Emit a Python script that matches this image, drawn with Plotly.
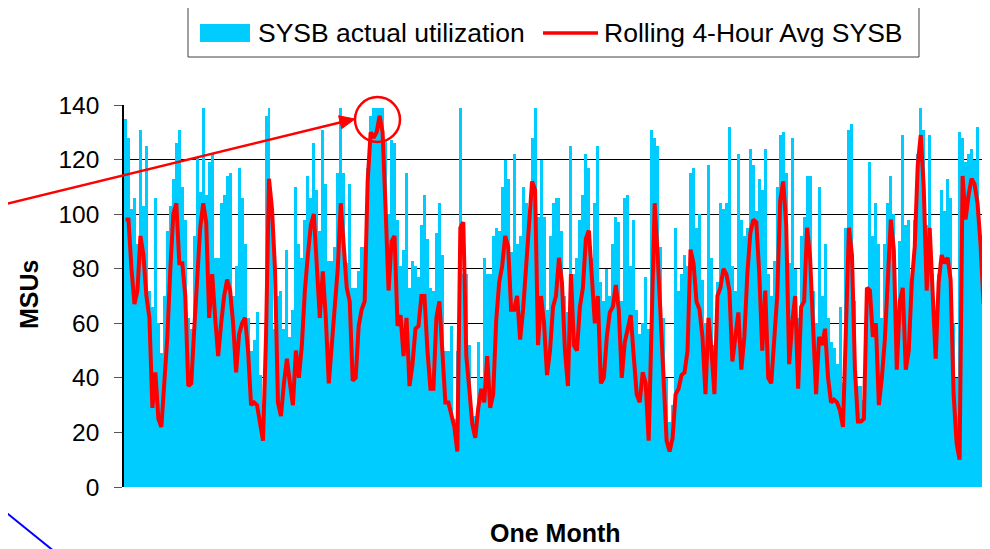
import plotly.graph_objects as go

# ---------------- data ----------------
actual_msus = [
    135, 128, 102, 106, 89, 131, 103, 125, 72, 66, 106, 60, 49, 70, 94, 103, 113, 126, 131, 110,
    98, 62, 58, 92, 121, 108, 139, 107, 119, 122, 84, 84, 104, 107, 114, 115, 70, 81, 117, 106,
    89, 62, 50, 54, 64, 41, 24, 136, 139, 102, 58, 70, 72, 58, 87, 55, 65, 110, 89, 84,
    98, 114, 106, 126, 109, 94, 131, 111, 83, 83, 88, 115, 139, 115, 82, 111, 73, 73, 79, 88,
    88, 117, 136, 139, 139, 139, 139, 127, 100, 127, 126, 98, 81, 87, 115, 73, 83, 81, 77, 96,
    107, 91, 73, 72, 93, 104, 85, 50, 50, 59, 25, 50, 139, 78, 78, 52, 26, 26, 53, 40,
    84, 78, 78, 92, 95, 94, 110, 120, 113, 86, 122, 89, 92, 110, 104, 100, 128, 139, 99, 120,
    99, 65, 92, 104, 106, 106, 94, 70, 64, 125, 78, 84, 98, 107, 122, 117, 84, 104, 125, 75,
    68, 80, 70, 89, 99, 97, 68, 106, 107, 81, 98, 65, 56, 60, 77, 58, 131, 128, 125, 88,
    62, 40, 24, 30, 95, 72, 78, 85, 81, 115, 117, 95, 100, 76, 60, 118, 84, 52, 75, 104,
    102, 104, 132, 81, 72, 122, 98, 92, 95, 124, 118, 101, 113, 109, 124, 78, 70, 83, 110, 129,
    130, 115, 82, 128, 80, 62, 92, 99, 114, 114, 72, 60, 110, 70, 89, 62, 53, 51, 45, 66,
    38, 95, 131, 133, 68, 37, 37, 32, 73, 119, 92, 104, 89, 62, 89, 104, 114, 100, 62, 90,
    129, 96, 98, 75, 98, 122, 139, 131, 96, 129, 78, 63, 78, 109, 101, 113, 106, 60, 40, 130,
    128, 119, 122, 124, 120, 132, 91, 60,
]

rolling_avg = [
    98, 98, 80, 67, 72, 92, 85, 70, 62, 29, 42, 25, 22, 40, 55, 80, 100, 104, 82, 82,
    70, 37, 38, 58, 75, 95, 104, 97, 62, 78, 62, 48, 60, 70, 76, 72, 60, 42, 56, 60,
    62, 50, 30, 31, 30, 23, 17, 55, 113, 102, 80, 31, 26, 38, 47, 38, 30, 50, 40, 52,
    72, 85, 96, 100, 80, 62, 79, 62, 38, 52, 65, 80, 104, 90, 73, 68, 39, 40, 59, 65,
    68, 112, 130, 128, 130, 136, 130, 102, 72, 90, 92, 59, 63, 48, 62, 37, 45, 58, 59, 70,
    70, 50, 36, 36, 62, 68, 50, 31, 31, 27, 22, 13, 95, 97, 48, 36, 23, 18, 29, 36,
    31, 48, 29, 34, 61, 75, 81, 92, 88, 65, 65, 70, 54, 65, 80, 98, 112, 109, 52, 70,
    60, 41, 50, 66, 70, 84, 75, 50, 37, 78, 52, 50, 66, 73, 91, 94, 78, 60, 70, 38,
    40, 55, 64, 66, 74, 65, 40, 53, 58, 63, 48, 34, 31, 42, 38, 17, 60, 104, 85, 63,
    42, 17, 13, 18, 34, 36, 41, 42, 50, 87, 82, 68, 65, 55, 34, 62, 50, 34, 70, 73,
    80, 78, 72, 46, 55, 64, 43, 55, 78, 93, 98, 97, 78, 50, 72, 40, 38, 55, 70, 105,
    112, 96, 45, 60, 70, 36, 66, 68, 95, 84, 56, 34, 55, 52, 58, 40, 31, 32, 31, 28,
    22, 60, 95, 85, 43, 24, 24, 25, 73, 72, 55, 60, 30, 40, 54, 76, 98, 87, 43, 68,
    73, 43, 50, 75, 88, 118, 129, 110, 72, 95, 70, 47, 75, 85, 82, 84, 76, 34, 16, 10,
    114, 98, 107, 113, 111, 104, 89, 67,
]

hours = list(range(len(actual_msus)))

series_names = ["SYSB actual utilization", "Rolling 4-Hour Avg SYSB"]
y_ticks = [0, 20, 40, 60, 80, 100, 120, 140]
y_title = "MSUs"
x_title = "One Month"

# ---------------- figure geometry ----------------
# the page body adds an 8px margin, so the figure is placed at (8, 8)
OFF = 8
W, H = 990 - OFF, 549 - OFF
PLOT_LEFT, PLOT_RIGHT, PLOT_TOP, PLOT_BOTTOM = 124, 985, 105, 487   # page pixels
L = PLOT_LEFT - OFF
T = PLOT_TOP - OFF
R = W - (PLOT_RIGHT - OFF)
B = H - (PLOT_BOTTOM - OFF)
PW, PH = W - L - R, H - T - B


def px(x):
    return (x - PLOT_LEFT) / PW


def py(y):
    return (PLOT_BOTTOM - y) / PH


FONT = "Liberation Sans, Arial, sans-serif"
CYAN = "#00CCFF"
RED = "#FF0000"

fig = go.Figure()
fig.add_trace(go.Bar(
    x=hours, y=actual_msus, name=series_names[0],
    marker=dict(color=CYAN, line=dict(width=0)),
    showlegend=False,
))
fig.add_trace(go.Scatter(
    x=hours, y=rolling_avg, name=series_names[1], mode="lines",
    line=dict(color=RED, width=4),
    showlegend=False,
))

shapes = []
# right border of plot area
shapes.append(dict(type="line", xref="paper", yref="paper", x0=1, x1=1, y0=0, y1=1,
                   line=dict(color="#808080", width=1), layer="below"))
# legend box and keys
shapes.append(dict(type="rect", xref="paper", yref="paper",
                   x0=px(188), x1=px(919), y0=py(57), y1=py(7),
                   line=dict(color="#404040", width=1), fillcolor="white"))
shapes.append(dict(type="rect", xref="paper", yref="paper",
                   x0=px(200), x1=px(250), y0=py(42), y1=py(24),
                   line=dict(width=0), fillcolor=CYAN))
shapes.append(dict(type="line", xref="paper", yref="paper",
                   x0=px(543), x1=px(598), y0=py(33), y1=py(33),
                   line=dict(color=RED, width=3.5)))
# red circle around the peak
shapes.append(dict(type="circle", xref="paper", yref="paper",
                   x0=px(355), x1=px(400), y0=py(142), y1=py(97),
                   line=dict(color=RED, width=2.5)))
# red arrow pointing at the circle
shapes.append(dict(type="line", xref="paper", yref="paper",
                   x0=px(0), y0=py(205.5), x1=px(342), y1=py(122),
                   line=dict(color=RED, width=2.5)))
tip = (355, 119)
b1 = (341.8, 128.6)
b2 = (338.6, 115.8)
shapes.append(dict(type="path", xref="paper", yref="paper",
                   path=f"M {px(tip[0])} {py(tip[1])} L {px(b1[0])} {py(b1[1])} L {px(b2[0])} {py(b2[1])} Z",
                   fillcolor=RED, line=dict(color=RED, width=1)))
# blue line at bottom-left
shapes.append(dict(type="line", xref="paper", yref="paper",
                   x0=px(0), y0=py(507.5), x1=px(55), y1=py(552),
                   line=dict(color="#0000FF", width=2)))

annotations = [
    dict(text=series_names[0], xref="paper", yref="paper", x=px(256), y=py(33),
         xanchor="left", yanchor="middle", showarrow=False,
         font=dict(family=FONT, size=26.5, color="black")),
    dict(text=series_names[1], xref="paper", yref="paper", x=px(602), y=py(33),
         xanchor="left", yanchor="middle", showarrow=False,
         font=dict(family=FONT, size=26.5, color="black")),
    dict(text=f"<b>{y_title}</b>", xref="paper", yref="paper", x=px(29), y=py(295),
         xanchor="center", yanchor="middle", textangle=-90, showarrow=False,
         font=dict(family=FONT, size=25, color="black")),
    dict(text=f"<b>{x_title}</b>", xref="paper", yref="paper", x=px(555), y=py(533),
         xanchor="center", yanchor="middle", showarrow=False,
         font=dict(family=FONT, size=25, color="black")),
]

fig.update_layout(
    width=W, height=H,
    margin=dict(l=L, r=R, t=T, b=B, pad=0),
    paper_bgcolor="white", plot_bgcolor="white",
    bargap=0,
    showlegend=False,
    shapes=shapes,
    annotations=annotations,
    font=dict(family=FONT, size=24, color="black"),
)
fig.update_xaxes(
    range=[-0.5, len(hours) - 0.5],
    showticklabels=False, ticks="", showgrid=False, zeroline=False, showline=False,
)
fig.update_yaxes(
    range=[0, 140], tickvals=y_ticks, ticktext=[str(v) for v in y_ticks],
    showgrid=True, gridcolor="#000000", gridwidth=1,
    ticks="outside", ticklen=8, tickcolor="#555555", tickwidth=1,
    showline=True, linecolor="black", linewidth=1.5,
    zeroline=False, ticklabelstandoff=10,
    tickfont=dict(family=FONT, size=24.5, color="black"),
)

fig.write_html("out.html")
